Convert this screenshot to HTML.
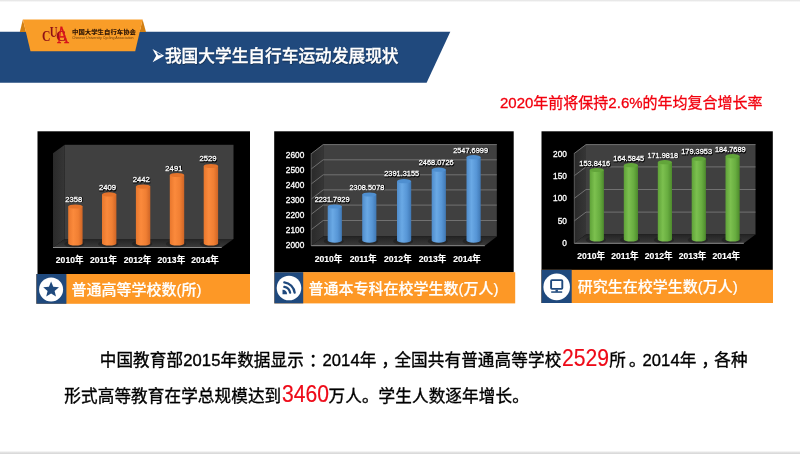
<!DOCTYPE html>
<html lang="zh-CN"><head><meta charset="utf-8"><title>我国大学生自行车运动发展现状</title>
<style>
html,body{margin:0;padding:0;background:#fff;}
body{width:800px;height:454px;position:relative;overflow:hidden;font-family:"Liberation Sans","Noto Sans CJK SC",sans-serif;}
.abs{position:absolute;white-space:nowrap;}
#topbar{left:0;top:0;width:800px;height:2.4px;background:linear-gradient(#e4e4e4,#ececec 50%,#fff);}
#botbar{left:0;top:450.6px;width:800px;height:3.4px;background:linear-gradient(#fff,#e6e6e6 35%,#d6d6d6);}
#title{left:151px;top:45.4px;color:#fff;font-weight:500;-webkit-text-stroke:0.35px #fff;font-size:16.7px;line-height:24px;text-shadow:0.5px 0.8px 1px rgba(0,0,0,.45);}
#red{left:500px;top:92px;color:#f2000e;font-size:15px;line-height:22px;-webkit-text-stroke:0.3px #f2000e;}
.band{color:#fff;font-size:15px;line-height:20px;font-weight:500;-webkit-text-stroke:0.2px #fff;}
#p1,#p2{color:#000;font-size:16.6px;line-height:24px;-webkit-text-stroke:0.35px #000;}
#p1{left:98.8px;top:348.7px;width:660px;height:24px;}
#p1>span{position:absolute;top:0;white-space:nowrap;letter-spacing:0.1px;}
#p1 b{font-weight:normal;position:relative;}
#p2{left:64.3px;top:384.9px;letter-spacing:0.1px;}
.big{color:#ee0a18;-webkit-text-stroke:0.2px #ee0a18;display:inline-block;width:47.2px;line-height:0;vertical-align:baseline;text-align:left;}
.big i{font-style:normal;display:inline-block;font-size:23.2px;line-height:0;transform:scaleX(.91);transform-origin:0 100%;letter-spacing:0;margin-left:0.4px;}
svg text{font-family:"Liberation Sans","Noto Sans CJK SC",sans-serif;fill:#fff;}
svg text.lgt{font-family:"Liberation Serif",serif;}
svg .dl,svg .yl{stroke:#fff;stroke-width:0.3px;}
svg .xl{font-size:8.6px;font-weight:bold;stroke:#fff;stroke-width:0.15px;}
svg .yl{font-size:8.3px;}
svg text.sh{fill:#000;stroke:#000;stroke-width:1.1px;stroke-linejoin:round;opacity:.85;}
#logo-cn{left:72.1px;top:26.1px;font-size:12.8px;line-height:12.8px;font-weight:900;color:#2e1606;transform:scale(.5,.41);transform-origin:0 50%;letter-spacing:0;}
#logo-en{left:72.4px;top:32.1px;font-size:14.3px;line-height:12px;font-weight:normal;color:#6b3d0c;transform:scale(.25);transform-origin:0 50%;}
.lg{font-family:"Liberation Serif",serif;line-height:1;}
</style></head><body>
<div class="abs" id="topbar"></div>
<div class="abs" id="botbar"></div>
<svg class="abs" style="left:0;top:0" width="800" height="454" viewBox="0 0 800 454">
<defs>
<linearGradient id="g1" x1="0" x2="1" y1="0" y2="0"><stop offset="0" stop-color="#e8772d"/><stop offset=".35" stop-color="#fb8a3c"/><stop offset=".7" stop-color="#f07f33"/><stop offset="1" stop-color="#cf6526"/></linearGradient>
<linearGradient id="g2" x1="0" x2="1" y1="0" y2="0"><stop offset="0" stop-color="#4f8ccb"/><stop offset=".35" stop-color="#6aa9e5"/><stop offset=".7" stop-color="#5796d6"/><stop offset="1" stop-color="#4078b4"/></linearGradient>
<linearGradient id="g3" x1="0" x2="1" y1="0" y2="0"><stop offset="0" stop-color="#5fa238"/><stop offset=".35" stop-color="#7cc04f"/><stop offset=".7" stop-color="#68ad40"/><stop offset="1" stop-color="#4d8a2c"/></linearGradient>
<linearGradient id="side" x1="0" x2="1" y1="0" y2="0"><stop offset="0" stop-color="#2a2a2a"/><stop offset="1" stop-color="#363636"/></linearGradient>
<linearGradient id="floor" x1="0" x2="0" y1="0" y2="1"><stop offset="0" stop-color="#242424"/><stop offset="1" stop-color="#3a3a3a"/></linearGradient>
</defs>
<!-- header band -->
<polygon points="0,31.8 450.3,31.8 426.6,82.8 0,82.8" fill="#20497d"/>
<polygon points="22.9,19.4 19.8,31.9 26,31.9" fill="#d27f12"/>
<polygon points="142.6,19.4 146,31.9 139.6,31.9" fill="#d27f12"/>
<polygon points="22.9,19.4 142.6,19.4 135.2,51.2 30.5,51.2" fill="#f99d28"/>
<!-- title arrow -->
<path d="M152.5,49 L164.2,55.7 L152.6,62.3 L156.2,55.7 Z" fill="#fff"/>
<path d="M156.4,52.1 L162,55.3 L158.2,55.3 Z" fill="#1f497d"/>
<rect x="37.5" y="131.3" width="212.5" height="142.7" fill="#000"/>
<rect x="64.8" y="144.8" width="168.7" height="94.2" fill="#404040"/>
<polygon points="64.8,144.8 53.0,153.3 53.0,247.5 64.8,239" fill="url(#side)"/>
<polygon points="64.8,239 233.5,239 221.7,247.5 53.0,247.5" fill="url(#floor)"/>
<path d="M53.0,247.5 L221.7,247.5" stroke="#8a8a8a" stroke-width="1" fill="none"/>
<ellipse cx="74.4" cy="244.0" rx="10.2" ry="3.5" fill="#0c0c0c" opacity="0.32"/>
<ellipse cx="108.2" cy="244.0" rx="10.2" ry="3.5" fill="#0c0c0c" opacity="0.32"/>
<ellipse cx="142.1" cy="244.0" rx="10.2" ry="3.5" fill="#0c0c0c" opacity="0.32"/>
<ellipse cx="176.0" cy="244.0" rx="10.2" ry="3.5" fill="#0c0c0c" opacity="0.32"/>
<ellipse cx="209.9" cy="244.0" rx="10.2" ry="3.5" fill="#0c0c0c" opacity="0.32"/>
<path d="M68.2,206.5 L68.2,243.4 A7.2,2.1 0 0 0 82.6,243.4 L82.6,206.5 Z" fill="url(#g1)"/>
<ellipse cx="75.4" cy="206.5" rx="7.2" ry="2.1" fill="#e4732b"/>
<path d="M102.0,194.4 L102.0,243.4 A7.2,2.1 0 0 0 116.4,243.4 L116.4,194.4 Z" fill="url(#g1)"/>
<ellipse cx="109.2" cy="194.4" rx="7.2" ry="2.1" fill="#e4732b"/>
<path d="M135.9,186.6 L135.9,243.4 A7.2,2.1 0 0 0 150.3,243.4 L150.3,186.6 Z" fill="url(#g1)"/>
<ellipse cx="143.1" cy="186.6" rx="7.2" ry="2.1" fill="#e4732b"/>
<path d="M169.8,175.0 L169.8,243.4 A7.2,2.1 0 0 0 184.2,243.4 L184.2,175.0 Z" fill="url(#g1)"/>
<ellipse cx="177.0" cy="175.0" rx="7.2" ry="2.1" fill="#e4732b"/>
<path d="M203.7,166.0 L203.7,243.4 A7.2,2.1 0 0 0 218.1,243.4 L218.1,166.0 Z" fill="url(#g1)"/>
<ellipse cx="210.9" cy="166.0" rx="7.2" ry="2.1" fill="#e4732b"/>
<text class="dl sh" x="74.3" y="202.1" text-anchor="middle" font-size="7.7">2358</text>
<text class="dl" x="73.8" y="201.5" text-anchor="middle" font-size="7.7">2358</text>
<text class="dl sh" x="108.0" y="190.6" text-anchor="middle" font-size="7.7">2409</text>
<text class="dl" x="107.5" y="190.0" text-anchor="middle" font-size="7.7">2409</text>
<text class="dl sh" x="141.8" y="182.7" text-anchor="middle" font-size="7.7">2442</text>
<text class="dl" x="141.3" y="182.1" text-anchor="middle" font-size="7.7">2442</text>
<text class="dl sh" x="174.4" y="171.2" text-anchor="middle" font-size="7.7">2491</text>
<text class="dl" x="173.9" y="170.6" text-anchor="middle" font-size="7.7">2491</text>
<text class="dl sh" x="208.5" y="162.0" text-anchor="middle" font-size="7.7">2529</text>
<text class="dl" x="208" y="161.4" text-anchor="middle" font-size="7.7">2529</text>
<text class="xl sh" x="70.2" y="263.9" text-anchor="middle">2010年</text>
<text class="xl" x="69.7" y="263.3" text-anchor="middle">2010年</text>
<text class="xl sh" x="104.1" y="263.9" text-anchor="middle">2011年</text>
<text class="xl" x="103.6" y="263.3" text-anchor="middle">2011年</text>
<text class="xl sh" x="138.0" y="263.9" text-anchor="middle">2012年</text>
<text class="xl" x="137.5" y="263.3" text-anchor="middle">2012年</text>
<text class="xl sh" x="171.9" y="263.9" text-anchor="middle">2013年</text>
<text class="xl" x="171.4" y="263.3" text-anchor="middle">2013年</text>
<text class="xl sh" x="205.5" y="263.9" text-anchor="middle">2014年</text>
<text class="xl" x="205.0" y="263.3" text-anchor="middle">2014年</text>
<rect x="274.2" y="131.3" width="239.5" height="141.1" fill="#000"/>
<rect x="323.2" y="144.2" width="173.6" height="92.3" fill="#404040"/>
<polygon points="323.2,144.2 311.2,153.39999999999998 311.2,245.7 323.2,236.5" fill="url(#side)"/>
<polygon points="323.2,236.5 496.8,236.5 484.8,245.7 311.2,245.7" fill="url(#floor)"/>
<path d="M311.2,153.79999999999998 L323.2,144.6 L496.8,144.6" fill="none" stroke="#777" stroke-width="0.9"/>
<path d="M311.2,169.0 L323.2,159.8 L496.8,159.8" fill="none" stroke="#777" stroke-width="0.9"/>
<path d="M311.2,184.0 L323.2,174.8 L496.8,174.8" fill="none" stroke="#777" stroke-width="0.9"/>
<path d="M311.2,199.1 L323.2,189.9 L496.8,189.9" fill="none" stroke="#777" stroke-width="0.9"/>
<path d="M311.2,214.29999999999998 L323.2,205.1 L496.8,205.1" fill="none" stroke="#777" stroke-width="0.9"/>
<path d="M311.2,229.7 L323.2,220.5 L496.8,220.5" fill="none" stroke="#777" stroke-width="0.9"/>
<path d="M311.2,153.39999999999998 L311.2,245.7" stroke="#6a6a6a" stroke-width="0.8" fill="none"/>
<path d="M311.2,245.7 L484.8,245.7" stroke="#8a8a8a" stroke-width="1" fill="none"/>
<ellipse cx="333.8" cy="241.2" rx="10.1" ry="3.5" fill="#0c0c0c" opacity="0.32"/>
<ellipse cx="368.3" cy="241.2" rx="10.1" ry="3.5" fill="#0c0c0c" opacity="0.32"/>
<ellipse cx="403.1" cy="241.2" rx="10.1" ry="3.5" fill="#0c0c0c" opacity="0.32"/>
<ellipse cx="437.8" cy="241.2" rx="10.1" ry="3.5" fill="#0c0c0c" opacity="0.32"/>
<ellipse cx="472.6" cy="241.2" rx="10.1" ry="3.5" fill="#0c0c0c" opacity="0.32"/>
<path d="M327.7,206.5 L327.7,240.6 A7.1,2.1 0 0 0 341.9,240.6 L341.9,206.5 Z" fill="url(#g2)"/>
<ellipse cx="334.8" cy="206.5" rx="7.1" ry="2.1" fill="#4f8fd0"/>
<path d="M362.2,194.5 L362.2,240.6 A7.1,2.1 0 0 0 376.4,240.6 L376.4,194.5 Z" fill="url(#g2)"/>
<ellipse cx="369.3" cy="194.5" rx="7.1" ry="2.1" fill="#4f8fd0"/>
<path d="M397.0,181.2 L397.0,240.6 A7.1,2.1 0 0 0 411.2,240.6 L411.2,181.2 Z" fill="url(#g2)"/>
<ellipse cx="404.1" cy="181.2" rx="7.1" ry="2.1" fill="#4f8fd0"/>
<path d="M431.7,169.7 L431.7,240.6 A7.1,2.1 0 0 0 445.9,240.6 L445.9,169.7 Z" fill="url(#g2)"/>
<ellipse cx="438.8" cy="169.7" rx="7.1" ry="2.1" fill="#4f8fd0"/>
<path d="M466.5,157.2 L466.5,240.6 A7.1,2.1 0 0 0 480.7,240.6 L480.7,157.2 Z" fill="url(#g2)"/>
<ellipse cx="473.6" cy="157.2" rx="7.1" ry="2.1" fill="#4f8fd0"/>
<text class="dl sh" x="332.6" y="202.6" text-anchor="middle" font-size="7.4">2231.7929</text>
<text class="dl" x="332.1" y="202.0" text-anchor="middle" font-size="7.4">2231.7929</text>
<text class="dl sh" x="367.4" y="190.1" text-anchor="middle" font-size="7.4">2308.5078</text>
<text class="dl" x="366.9" y="189.5" text-anchor="middle" font-size="7.4">2308.5078</text>
<text class="dl sh" x="402.2" y="177.0" text-anchor="middle" font-size="7.4">2391.3155</text>
<text class="dl" x="401.7" y="176.4" text-anchor="middle" font-size="7.4">2391.3155</text>
<text class="dl sh" x="436.7" y="165.8" text-anchor="middle" font-size="7.4">2468.0726</text>
<text class="dl" x="436.2" y="165.2" text-anchor="middle" font-size="7.4">2468.0726</text>
<text class="dl sh" x="471.1" y="153.3" text-anchor="middle" font-size="7.4">2547.6999</text>
<text class="dl" x="470.6" y="152.7" text-anchor="middle" font-size="7.4">2547.6999</text>
<text class="xl sh" x="329.0" y="262.4" text-anchor="middle">2010年</text>
<text class="xl" x="328.5" y="261.8" text-anchor="middle">2010年</text>
<text class="xl sh" x="363.8" y="262.4" text-anchor="middle">2011年</text>
<text class="xl" x="363.3" y="261.8" text-anchor="middle">2011年</text>
<text class="xl sh" x="398.4" y="262.4" text-anchor="middle">2012年</text>
<text class="xl" x="397.9" y="261.8" text-anchor="middle">2012年</text>
<text class="xl sh" x="433.0" y="262.4" text-anchor="middle">2013年</text>
<text class="xl" x="432.5" y="261.8" text-anchor="middle">2013年</text>
<text class="xl sh" x="467.6" y="262.4" text-anchor="middle">2014年</text>
<text class="xl" x="467.1" y="261.8" text-anchor="middle">2014年</text>
<text class="yl sh" x="304.8" y="158.2" text-anchor="end">2600</text>
<text class="yl" x="304.3" y="157.6" text-anchor="end">2600</text>
<text class="yl sh" x="304.8" y="173.3" text-anchor="end">2500</text>
<text class="yl" x="304.3" y="172.7" text-anchor="end">2500</text>
<text class="yl sh" x="304.8" y="188.4" text-anchor="end">2400</text>
<text class="yl" x="304.3" y="187.8" text-anchor="end">2400</text>
<text class="yl sh" x="304.8" y="203.4" text-anchor="end">2300</text>
<text class="yl" x="304.3" y="202.8" text-anchor="end">2300</text>
<text class="yl sh" x="304.8" y="218.5" text-anchor="end">2200</text>
<text class="yl" x="304.3" y="217.9" text-anchor="end">2200</text>
<text class="yl sh" x="304.8" y="233.6" text-anchor="end">2100</text>
<text class="yl" x="304.3" y="233.0" text-anchor="end">2100</text>
<text class="yl sh" x="304.8" y="248.7" text-anchor="end">2000</text>
<text class="yl" x="304.3" y="248.1" text-anchor="end">2000</text>
<rect x="541.5" y="131.3" width="231.3" height="138.7" fill="#000"/>
<rect x="586" y="144.2" width="169.5" height="90.3" fill="#404040"/>
<polygon points="586,144.2 574.3,153.0 574.3,243.3 586,234.5" fill="url(#side)"/>
<polygon points="586,234.5 755.5,234.5 743.8,243.3 574.3,243.3" fill="url(#floor)"/>
<path d="M574.3,153.4 L586,144.6 L755.5,144.6" fill="none" stroke="#777" stroke-width="0.9"/>
<path d="M574.3,175.70000000000002 L586,166.9 L755.5,166.9" fill="none" stroke="#777" stroke-width="0.9"/>
<path d="M574.3,198.3 L586,189.5 L755.5,189.5" fill="none" stroke="#777" stroke-width="0.9"/>
<path d="M574.3,220.9 L586,212.1 L755.5,212.1" fill="none" stroke="#777" stroke-width="0.9"/>
<path d="M574.3,153.0 L574.3,243.3" stroke="#6a6a6a" stroke-width="0.8" fill="none"/>
<path d="M574.3,243.3 L743.8,243.3" stroke="#8a8a8a" stroke-width="1" fill="none"/>
<ellipse cx="595.8" cy="240.0" rx="10.1" ry="3.5" fill="#0c0c0c" opacity="0.32"/>
<ellipse cx="629.9" cy="240.0" rx="10.1" ry="3.5" fill="#0c0c0c" opacity="0.32"/>
<ellipse cx="663.9" cy="240.0" rx="10.1" ry="3.5" fill="#0c0c0c" opacity="0.32"/>
<ellipse cx="697.8" cy="240.0" rx="10.1" ry="3.5" fill="#0c0c0c" opacity="0.32"/>
<ellipse cx="731.6" cy="240.0" rx="10.1" ry="3.5" fill="#0c0c0c" opacity="0.32"/>
<path d="M589.7,170.0 L589.7,239.4 A7.1,2.1 0 0 0 603.9,239.4 L603.9,170.0 Z" fill="url(#g3)"/>
<ellipse cx="596.8" cy="170.0" rx="7.1" ry="2.1" fill="#62a53a"/>
<path d="M623.8,165.2 L623.8,239.4 A7.1,2.1 0 0 0 638.0,239.4 L638.0,165.2 Z" fill="url(#g3)"/>
<ellipse cx="630.9" cy="165.2" rx="7.1" ry="2.1" fill="#62a53a"/>
<path d="M657.8,162.2 L657.8,239.4 A7.1,2.1 0 0 0 672.0,239.4 L672.0,162.2 Z" fill="url(#g3)"/>
<ellipse cx="664.9" cy="162.2" rx="7.1" ry="2.1" fill="#62a53a"/>
<path d="M691.7,158.7 L691.7,239.4 A7.1,2.1 0 0 0 705.9,239.4 L705.9,158.7 Z" fill="url(#g3)"/>
<ellipse cx="698.8" cy="158.7" rx="7.1" ry="2.1" fill="#62a53a"/>
<path d="M725.5,156.2 L725.5,239.4 A7.1,2.1 0 0 0 739.7,239.4 L739.7,156.2 Z" fill="url(#g3)"/>
<ellipse cx="732.6" cy="156.2" rx="7.1" ry="2.1" fill="#62a53a"/>
<text class="dl sh" x="595.2" y="167.0" text-anchor="middle" font-size="7.4">153.8416</text>
<text class="dl" x="594.7" y="166.4" text-anchor="middle" font-size="7.4">153.8416</text>
<text class="dl sh" x="629.2" y="161.6" text-anchor="middle" font-size="7.4">164.5845</text>
<text class="dl" x="628.7" y="161.0" text-anchor="middle" font-size="7.4">164.5845</text>
<text class="dl sh" x="663.3" y="158.3" text-anchor="middle" font-size="7.4">171.9818</text>
<text class="dl" x="662.8" y="157.7" text-anchor="middle" font-size="7.4">171.9818</text>
<text class="dl sh" x="697.1" y="155.0" text-anchor="middle" font-size="7.4">179.3953</text>
<text class="dl" x="696.6" y="154.4" text-anchor="middle" font-size="7.4">179.3953</text>
<text class="dl sh" x="730.8" y="152.6" text-anchor="middle" font-size="7.4">184.7689</text>
<text class="dl" x="730.3" y="152.0" text-anchor="middle" font-size="7.4">184.7689</text>
<text class="xl sh" x="591.7" y="259.9" text-anchor="middle">2010年</text>
<text class="xl" x="591.2" y="259.3" text-anchor="middle">2010年</text>
<text class="xl sh" x="625.4" y="259.9" text-anchor="middle">2011年</text>
<text class="xl" x="624.9" y="259.3" text-anchor="middle">2011年</text>
<text class="xl sh" x="659.2" y="259.9" text-anchor="middle">2012年</text>
<text class="xl" x="658.7" y="259.3" text-anchor="middle">2012年</text>
<text class="xl sh" x="693.0" y="259.9" text-anchor="middle">2013年</text>
<text class="xl" x="692.5" y="259.3" text-anchor="middle">2013年</text>
<text class="xl sh" x="726.8" y="259.9" text-anchor="middle">2014年</text>
<text class="xl" x="726.3" y="259.3" text-anchor="middle">2014年</text>
<text class="yl sh" x="567.4" y="157.4" text-anchor="end">200</text>
<text class="yl" x="566.9" y="156.8" text-anchor="end">200</text>
<text class="yl sh" x="567.4" y="179.7" text-anchor="end">150</text>
<text class="yl" x="566.9" y="179.1" text-anchor="end">150</text>
<text class="yl sh" x="567.4" y="202.0" text-anchor="end">100</text>
<text class="yl" x="566.9" y="201.4" text-anchor="end">100</text>
<text class="yl sh" x="567.4" y="224.3" text-anchor="end">50</text>
<text class="yl" x="566.9" y="223.7" text-anchor="end">50</text>
<text class="yl sh" x="567.4" y="246.6" text-anchor="end">0</text>
<text class="yl" x="566.9" y="246.0" text-anchor="end">0</text>
<!-- label bands -->
<rect x="36.3" y="274" width="213.7" height="29.8" fill="#fd9826"/>
<rect x="36.3" y="274" width="30.1" height="29.8" fill="#1f497d"/>
<circle cx="51.1" cy="289.5" r="12" fill="#fff"/>
<polygon points="51.10,281.50 53.27,286.81 58.99,287.24 54.62,290.94 55.98,296.51 51.10,293.50 46.22,296.51 47.58,290.94 43.21,287.24 48.93,286.81" fill="#1f497d"/>
<rect x="274.3" y="272.2" width="240.9" height="31.2" fill="#fd9826"/>
<rect x="274.3" y="272.2" width="28.9" height="31.2" fill="#1f497d"/>
<circle cx="289" cy="288" r="12.3" fill="#fff"/>
<g fill="none" stroke="#1f497d" stroke-width="2.3" stroke-linecap="round">
<path d="M284.31,282.36 A11.6,11.6 0 0 1 294.64,292.69"/>
<path d="M284.33,286.91 A7.1,7.1 0 0 1 290.09,292.67"/>
</g>
<path d="M282.5,289.7 A4.4,4.4 0 0 1 287.1,294.29999999999995 L282.5,294.29999999999995 Z" fill="#1f497d"/>
<rect x="541.3" y="269.8" width="231.7" height="33.2" fill="#fd9826"/>
<rect x="541.3" y="269.8" width="30.4" height="33.2" fill="#1f497d"/>
<circle cx="556.7" cy="286.9" r="13.3" fill="#fff"/>
<rect x="551.1" y="280.1" width="11.2" height="8.8" rx="0.8" fill="none" stroke="#1f497d" stroke-width="1.9"/>
<rect x="555.5" y="289.6" width="2.4" height="2.2" fill="#1f497d"/>
<rect x="551.2" y="291.3" width="11" height="1.5" fill="#1f497d"/>
<g font-family="'Liberation Serif',serif" style="font-family:'Liberation Serif',serif">
<text class="lgt" transform="translate(41.9,41.1) scale(.75,1)" font-size="15.6" font-weight="bold" style="fill:#8e0f16">C</text>
<text class="lgt" transform="translate(49.7,37.1) scale(.76,1)" font-size="14.2" font-weight="bold" style="fill:#8e0f16">U</text>
<text class="lgt" transform="translate(56.0,40.9) scale(.98,1)" font-size="14.3" font-weight="bold" style="fill:#a3101a">C</text>
<text class="lgt" transform="translate(57.2,42.6) skewX(6) scale(.66,1)" font-size="24.8" style="fill:#d8121c;stroke:#d8121c;stroke-width:.5px">A</text>
</g>
</svg>
<!-- logo -->
<div class="abs" id="logo-cn">中国大学生自行车协会</div>
<div class="abs" id="logo-en">Chinese University Cycling Association</div>
<div class="abs" id="title">&nbsp;&nbsp;&nbsp;我国大学生自行车运动发展现状</div>
<div class="abs" id="red">2020年前将保持2.6%的年均复合增长率</div>
<div class="abs band" style="left:71.6px;top:279.9px;">普通高等学校数(所)</div>
<div class="abs band" style="left:308.4px;top:278.6px;">普通本专科在校学生数(万人)</div>
<div class="abs band" style="left:577.8px;top:277.2px;">研究生在校学生数(万人)</div>
<div class="abs" id="p1"><span style="left:0.9px">中国教育部2015年数据显示<b style="left:5px">：</b></span><span style="left:223.6px">2014年<b style="left:5px">，</b></span><span style="left:295.6px">全国共有普通高等学校</span><span style="left:463.2px"><span class="big"><i>2529</i></span>所<b style="left:3px">。</b></span><span style="left:543.6px">2014年<b style="left:5px">，</b></span><span style="left:615.4px">各种</span></div>
<div class="abs" id="p2">形式高等教育在学总规模达到<span class="big"><i>3460</i></span>万人。学生人数逐年增长。</div>
</body></html>
